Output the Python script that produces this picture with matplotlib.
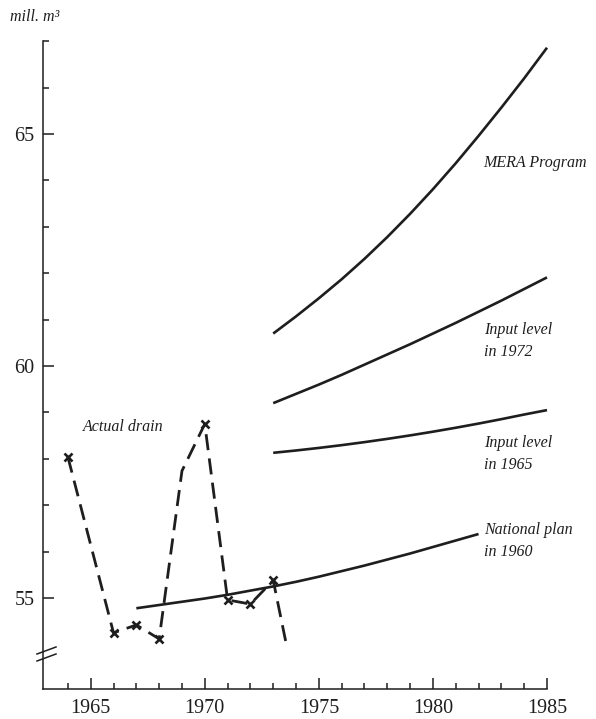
import matplotlib
matplotlib.use("Agg")
import matplotlib.pyplot as plt
from matplotlib.ticker import FixedLocator, NullFormatter, FixedFormatter

# ---------------- data ----------------
drain_years = [1964, 1966, 1967, 1968, 1969, 1970, 1971, 1972, 1973, 1973.6]
drain_vals = [58.04, 54.25, 54.42, 54.12, 57.74, 58.75, 54.96, 54.87, 55.38, 53.94]
drain_marked = [0, 1, 2, 3, 5, 6, 7, 8]

plan1960_years = list(range(1967, 1983))
plan1960_vals = [54.78, 54.85, 54.92, 54.99, 55.07, 55.16, 55.25, 55.35,
                 55.46, 55.58, 55.70, 55.83, 55.96, 56.10, 56.24, 56.38]

input1965_years = list(range(1973, 1986))
input1965_vals = [58.13, 58.18, 58.235, 58.295, 58.36, 58.43, 58.505,
                  58.585, 58.67, 58.76, 58.855, 58.955, 59.05]

input1972_years = list(range(1973, 1986))
input1972_vals = [59.20, 59.40, 59.60, 59.81, 60.03, 60.25, 60.47,
                  60.70, 60.93, 61.17, 61.41, 61.66, 61.91]

mera_years = list(range(1973, 1986))
mera_vals = [60.70, 61.07, 61.46, 61.87, 62.31, 62.78, 63.28,
             63.81, 64.37, 64.96, 65.57, 66.20, 66.86]

x_major = [1965, 1970, 1975, 1980, 1985]
x_minor = [y for y in range(1964, 1986) if y % 5 != 0]
y_major = [55, 60, 65]
y_minor = [56, 57, 58, 59, 61, 62, 63, 64, 66, 67]

# ---------------- figure ----------------
W, H = 596, 719
fig = plt.figure(figsize=(W / 100, H / 100), dpi=100)
fig.patch.set_facecolor("white")

left_px, right_px = 42.7, 547.0
top_px, bot_px = 41.2, 689.0
ax = fig.add_axes([left_px / W, 1 - bot_px / H,
                   (right_px - left_px) / W, (bot_px - top_px) / H])
ax.set_xlim(1962.896, 1985.0)
ax.set_ylim(53.04, 67.0)

ink = "#1e1e1e"
serif = ["Liberation Serif", "DejaVu Serif"]

for s in ["top", "right"]:
    ax.spines[s].set_visible(False)
for s in ["left", "bottom"]:
    ax.spines[s].set_color(ink)
    ax.spines[s].set_linewidth(1.1)

ax.xaxis.set_major_locator(FixedLocator(x_major))
ax.xaxis.set_minor_locator(FixedLocator(x_minor))
ax.yaxis.set_major_locator(FixedLocator(y_major))
ax.yaxis.set_minor_locator(FixedLocator(y_minor))
ax.xaxis.set_major_formatter(FixedFormatter([str(v) for v in x_major]))
ax.yaxis.set_major_formatter(FixedFormatter([str(v) for v in y_major]))
ax.xaxis.set_minor_formatter(NullFormatter())
ax.yaxis.set_minor_formatter(NullFormatter())

ax.tick_params(axis="both", which="major", direction="in", length=8, width=1.1,
               color=ink, labelsize=14.5, labelcolor=ink)
ax.tick_params(axis="both", which="minor", direction="in", length=4.5, width=1.1,
               color=ink)
ax.tick_params(axis="x", which="major", pad=7)
ax.tick_params(axis="y", which="major", pad=6)
for lab in ax.get_xticklabels() + ax.get_yticklabels():
    lab.set_fontfamily(serif)

# ---------------- curves ----------------
lw = 1.9
for xs, ys in [(plan1960_years, plan1960_vals),
               (input1965_years, input1965_vals),
               (input1972_years, input1972_vals),
               (mera_years, mera_vals)]:
    ax.plot(xs, ys, color=ink, lw=lw, solid_capstyle="butt",
            solid_joinstyle="round", clip_on=False)

ax.plot(drain_years, drain_vals, color=ink, lw=2.0, dashes=(5.8, 3.0),
        dash_capstyle="butt", clip_on=False)
ax.plot([drain_years[i] for i in drain_marked], [drain_vals[i] for i in drain_marked],
        linestyle="none", marker="x", markersize=6, markeredgewidth=1.9,
        color=ink, clip_on=False)

# ---------------- axis break marks (pixel coords, top origin) ----------------
for yv in [650.5, 657.5]:
    ax.plot([37, 56], [H - (yv + 3.5), H - (yv - 3.5)], transform=None,
            color=ink, lw=1.1, clip_on=False)

# ---------------- text ----------------
def label(px, py, s, size=11.5):
    fig.text(px / W, 1 - py / H, s, ha="left", va="center", fontsize=size,
             style="italic", family=serif, color=ink, linespacing=1.45)

label(10, 17, "mill. m³", size=11.5)
label(83, 427, "Actual drain")
label(483, 163, "MERA Program")
label(484, 341, "Input level\nin 1972")
label(484, 454, "Input level\nin 1965")
label(484, 541, "National plan\nin 1960")

fig.savefig("out.png", dpi=100, facecolor="white")
